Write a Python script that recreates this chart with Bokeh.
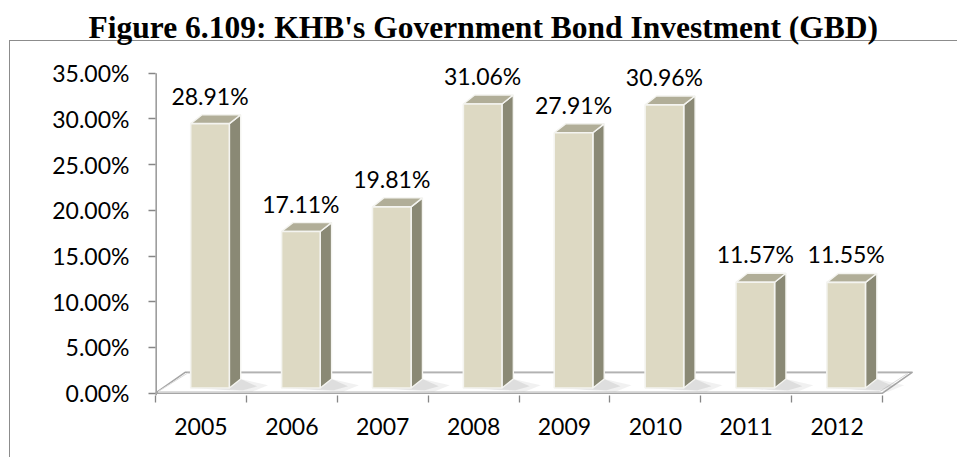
from bokeh.plotting import figure
from bokeh.models import (Range1d, LinearAxis, FixedTicker, PrintfTickFormatter,
                          ColumnDataSource, LabelSet)
from bokeh.core.properties import value
from bokeh.embed import file_html
from bokeh.resources import INLINE

# ---------------- data ----------------
years = ["2005", "2006", "2007", "2008", "2009", "2010", "2011", "2012"]
values = [28.91, 17.11, 19.81, 31.06, 27.91, 30.96, 11.57, 11.55]
y_ticks = [0, 5, 10, 15, 20, 25, 30, 35]
title_text = "Figure 6.109: KHB's Government Bond Investment (GBD)"

# ---------------- style ----------------
FONT = "Lato"
AXIS_GRAY = "#868686"
BOX_GRAY = "#8C8C8C"
FRONT = "#DDD9C3"
SIDE = "#8A8975"
TOP = "#B1AE98"
EDGE = "#F4F4F0"
FLOOR_DX, FLOOR_DY = 0.33, 2.3        # floor depth (x units, % units)
BAR_OFF_X, BAR_OFF_Y = 0.10, 0.57     # front face offset into depth
BAR_W = 0.425                          # front face width (x units)
BAR_DX, BAR_DY = 0.125, 0.98           # bar depth
Y_TOP = max(y_ticks)

n = len(years)

p = figure(width=957, height=457,
           x_range=Range1d(0, 8.451), y_range=Range1d(-0.25, 37.37),
           output_backend="svg", toolbar_location=None,
           x_axis_location=None, y_axis_location=None,
           min_border_left=155, min_border_right=34,
           min_border_top=51, min_border_bottom=62)
p.outline_line_color = None
p.background_fill_color = None
p.border_fill_color = None
# chart-area box (thin gray frame line at left and top, like the source)
p.styles = {"background": (f"linear-gradient({BOX_GRAY},{BOX_GRAY}) 9px 40px / 1px 100% no-repeat, "
                           f"linear-gradient({BOX_GRAY},{BOX_GRAY}) 9px 40px / 100% 1px no-repeat, "
                           "white")}
for g in p.grid:
    g.visible = False

# ---- title ----
p.title.text = title_text
p.title.align = "left"
p.title.offset = -67
p.title.standoff = 13
p.title.text_font = "Liberation Serif"
p.title.text_font_style = "bold"
p.title.text_font_size = "31.5px"
p.title.text_color = "black"

# ---- axes ----
yaxis = LinearAxis(ticker=FixedTicker(ticks=y_ticks),
                   formatter=PrintfTickFormatter(format="%.2f%%"))
yaxis.axis_line_color = None
yaxis.major_tick_line_color = AXIS_GRAY
yaxis.major_tick_line_width = 1.3
yaxis.major_tick_out = 7
yaxis.major_tick_in = 0
yaxis.minor_tick_line_color = None
yaxis.major_label_text_font = FONT
yaxis.major_label_text_font_size = "23px"
yaxis.major_label_text_color = "black"
yaxis.major_label_standoff = 19
p.add_layout(yaxis, "left")
# vertical axis line, from 0 to the top tick
p.segment(x0=[0], y0=[p.y_range.start], x1=[0], y1=[Y_TOP],
          line_color=AXIS_GRAY, line_width=2.6)

centers = [i + 0.5 for i in range(n)]
xaxis = LinearAxis(ticker=FixedTicker(ticks=centers, minor_ticks=list(range(n + 1))),
                   major_label_overrides={c: y for c, y in zip(centers, years)})
xaxis.axis_line_color = None
xaxis.major_tick_line_color = None
xaxis.minor_tick_line_color = AXIS_GRAY
xaxis.minor_tick_line_width = 1.3
xaxis.minor_tick_out = 7
xaxis.minor_tick_in = 0
xaxis.major_label_text_font = FONT
xaxis.major_label_text_font_size = "23px"
xaxis.major_label_text_color = "black"
xaxis.major_label_standoff = 15
p.add_layout(xaxis, "below")

# ---- floor ----
p.patch(x=[0, n, n + FLOOR_DX, FLOOR_DX], y=[0, 0, FLOOR_DY, FLOOR_DY],
        fill_color="white", line_color="#A6A6A6", line_width=1.6)
p.patch(x=[0.03, n - 0.03, n + FLOOR_DX - 0.05, FLOOR_DX + 0.02],
        y=[0.18, 0.18, FLOOR_DY - 0.12, FLOOR_DY - 0.12],
        fill_color="white", line_color="#DADADA", line_width=1)

# ---- bars ----
xl = [i + 0.5 + BAR_OFF_X - BAR_W / 2 for i in range(n)]
xr = [a + BAR_W for a in xl]
yb = [BAR_OFF_Y] * n
yt = [BAR_OFF_Y + v for v in values]

# soft shadows on the floor
for k, alpha in ((1.0, 0.12), (0.6, 0.18)):
    sh_xs, sh_ys = [], []
    for a, b in zip(xl, xr):
        sh_xs.append([a, b, b + BAR_DX, b + BAR_DX + 0.3 * k, b + 0.25 * k])
        sh_ys.append([BAR_OFF_Y, BAR_OFF_Y, BAR_OFF_Y + BAR_DY,
                      BAR_OFF_Y + 0.3 * k, BAR_OFF_Y - 0.4 * k])
    p.patches(xs=sh_xs, ys=sh_ys, fill_color="#8A8A8A", fill_alpha=alpha, line_color=None)

side_xs, side_ys, top_xs, top_ys = [], [], [], []
for a, b, t in zip(xl, xr, yt):
    side_xs.append([b, b + BAR_DX, b + BAR_DX, b])
    side_ys.append([BAR_OFF_Y, BAR_OFF_Y + BAR_DY, t + BAR_DY, t])
    top_xs.append([a, b, b + BAR_DX, a + BAR_DX])
    top_ys.append([t, t, t + BAR_DY, t + BAR_DY])

p.patches(xs=side_xs, ys=side_ys, fill_color=SIDE, line_color=EDGE, line_width=1.4)
p.patches(xs=top_xs, ys=top_ys, fill_color=TOP, line_color=EDGE, line_width=1.4)
p.quad(left=xl, right=xr, bottom=yb, top=yt,
       fill_color=FRONT, line_color=EDGE, line_width=1.6)

# ---- value labels ----
src = ColumnDataSource(dict(x=[(a + b) / 2 for a, b in zip(xl, xr)], y=yt,
                            txt=[f"{v:.2f}%" for v in values]))
p.add_layout(LabelSet(x="x", y="y", text="txt", source=src,
                      text_align="center", text_baseline="alphabetic",
                      y_offset=19, text_font=value(FONT), text_font_size="23px",
                      text_color="black"))

open("out.html", "w").write(file_html(p, INLINE))
